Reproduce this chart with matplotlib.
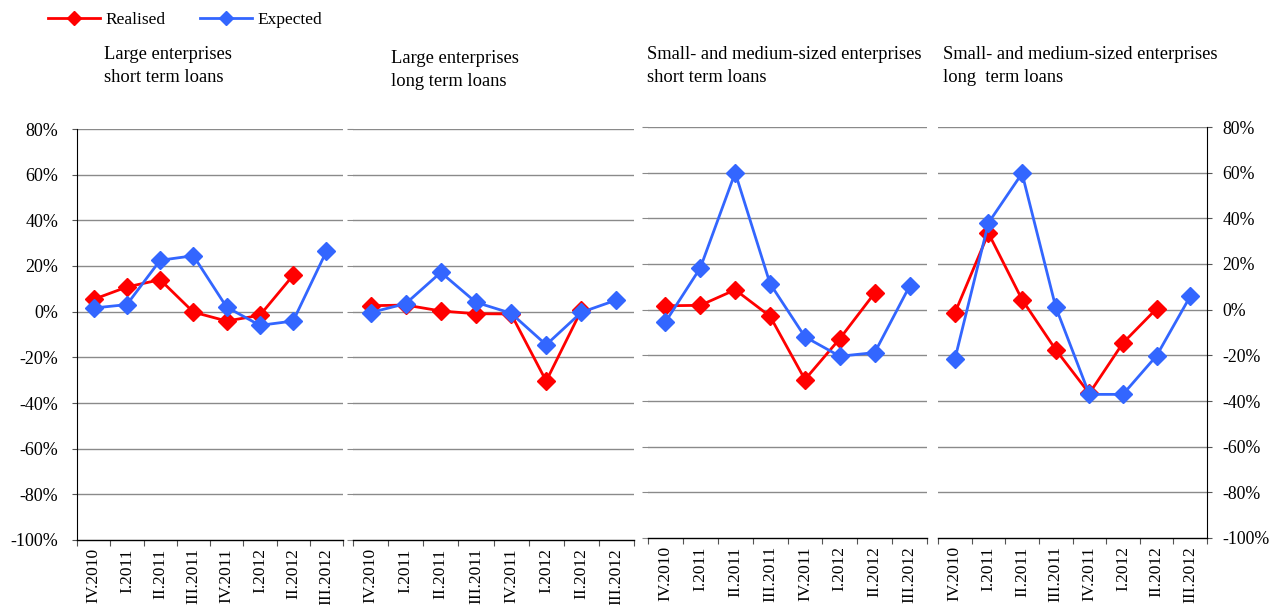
import matplotlib.pyplot as plt
import numpy as np
from matplotlib.lines import Line2D

plt.rcParams['font.family'] = ['Liberation Serif', 'DejaVu Serif']

quarters = ["IV.2010", "I.2011", "II.2011", "III.2011", "IV.2011", "I.2012", "II.2012", "III.2012"]

titles = [
    "Large enterprises\nshort term loans",
    "Large enterprises\nlong term loans",
    "Small- and medium-sized enterprises\nshort term loans",
    "Small- and medium-sized enterprises\nlong  term loans",
]

# realised changes (7 quarters), expected changes (8 quarters), in %
realised_large_short = [5.4, 10.8, 14.0, -0.2, -4.1, -1.6, 15.9]
expected_large_short = [1.6, 3.1, 22.5, 24.5, 2.0, -6.0, -4.1, 26.4]
realised_large_long = [2.6, 2.9, 0.3, -0.9, -1.0, -30.4, 0.6]
expected_large_long = [-0.4, 3.5, 17.2, 4.1, -0.7, -14.5, -0.3, 5.1]
realised_sme_short = [1.7, 1.9, 8.7, -2.9, -30.6, -12.7, 7.3]
expected_sme_short = [-5.4, 18.3, 60.0, 11.4, -11.9, -20.4, -18.8, 10.3]
realised_sme_long = [-1.5, 33.5, 4.4, -17.5, -36.7, -14.6, 0.4]
expected_sme_long = [-21.8, 38.0, 59.7, 1.2, -37.1, -37.1, -20.2, 5.8]

realised = [realised_large_short, realised_large_long, realised_sme_short, realised_sme_long]
expected = [expected_large_short, expected_large_long, expected_sme_short, expected_sme_long]

RED = "#ff0000"
BLUE = "#3366ff"
GRID = "#8a8a8a"

W, H = 1272, 605
fig = plt.figure(figsize=(W / 100, H / 100), dpi=100)

# panel boxes in pixels: left, right, top, bottom
boxes = [(77, 343, 129, 540), (353, 634, 129, 540),
         (648, 927, 127, 538), (938, 1207, 127, 538)]
title_pos = [(104, 46), (391, 50), (647, 46), (943, 46)]

yticks = np.arange(-100, 81, 20)
x = np.arange(len(quarters))

for i, (l, r, t, b) in enumerate(boxes):
    ax = fig.add_axes([l / W, 1 - b / H, (r - l) / W, (b - t) / H])
    ax.set_xlim(-0.5, len(quarters) - 0.5)
    ax.set_ylim(-100, 80)

    ax.plot(x[:len(realised[i])], realised[i], color=RED, lw=2, marker="D",
            ms=9.5, zorder=3, clip_on=False)
    ax.plot(x, expected[i], color=BLUE, lw=2, marker="D", ms=9.5, zorder=4,
            clip_on=False)

    ax.set_yticks(yticks)
    for v in yticks[1:]:
        ax.axhline(v, color=GRID, lw=1, zorder=1)

    # category boundaries get the tick marks, labels sit between them
    ax.set_xticks(np.arange(-0.5, len(quarters), 1))
    ax.set_xticklabels([])
    ax.set_xticks(x, minor=True)
    ax.set_xticklabels(quarters, minor=True, rotation=90, fontsize=12.5, va="top")
    ax.tick_params(axis="x", which="major", length=4, color="#555555", width=0.8)
    ax.tick_params(axis="x", which="minor", length=0, pad=6)

    for s in ["top", "right", "left"]:
        ax.spines[s].set_visible(False)
    ax.spines["bottom"].set_color("black")
    ax.spines["bottom"].set_linewidth(1)

    if i == 0:
        ax.spines["left"].set_visible(True)
        ax.spines["left"].set_color("black")
        ax.set_yticklabels([f"{v}%" for v in yticks], fontsize=13)
        ax.tick_params(axis="y", length=3.6, color="#555555", pad=10)
    elif i == 3:
        ax.spines["right"].set_visible(True)
        ax.spines["right"].set_color("black")
        ax.yaxis.tick_right()
        ax.set_yticklabels([f"{v}%" for v in yticks], fontsize=12.8)
        ax.tick_params(axis="y", length=3.6, color="#555555", pad=7.5)
    else:
        ax.set_yticklabels([])
        ax.tick_params(axis="y", length=4, color=GRID)

    tx, ty = title_pos[i]
    fig.text(tx / W, 1 - ty / H, titles[i], fontsize=13.3, va="top", ha="left",
             linespacing=1.45)

handles = [Line2D([], [], color=RED, lw=2, marker="D", ms=7),
           Line2D([], [], color=BLUE, lw=2, marker="D", ms=7)]
fig.legend(handles, ["Realised", "Expected"], loc="center left",
           bbox_to_anchor=(48 / W, 1 - 20 / H), ncol=2, frameon=False,
           fontsize=12.5, handlelength=3.0, columnspacing=2.0,
           handletextpad=0.3, borderpad=0, borderaxespad=0)

fig.savefig("out.png", dpi=100)
